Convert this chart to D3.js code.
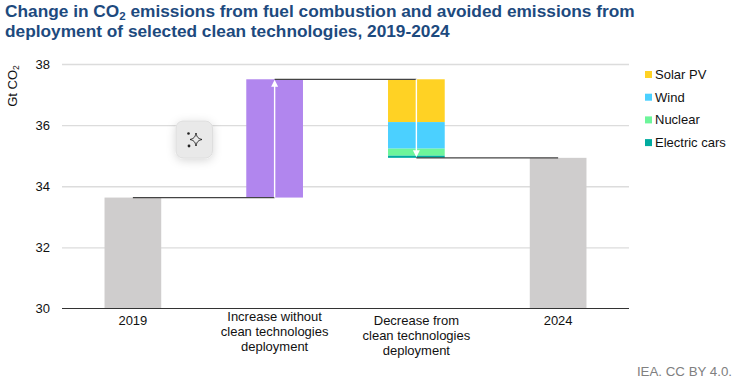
<!DOCTYPE html>
<html>
<head>
<meta charset="utf-8">
<script src="https://cdn.jsdelivr.net/npm/d3@7"></script>
<style>
  html, body { margin: 0; padding: 0; background: #fff; }
  svg { display: block; font-family: "Liberation Sans", Arial, sans-serif; }
</style>
</head>
<body>
<div id="chart"></div>
<script>
const categories = ["2019", "Increase", "Decrease", "2024"];
const categoryLabels = [
  ["2019"],
  ["Increase without", "clean technologies", "deployment"],
  ["Decrease from", "clean technologies", "deployment"],
  ["2024"]
];
const labelOffsets = [0, -4, 0, 0];
const yTicks = [30, 32, 34, 36, 38];

const start2019 = 33.63;
const increase = 3.87;
const end2024 = 34.93;

// decrease stack, top to bottom
const techNames = ["Solar PV", "Wind", "Nuclear", "Electric cars"];
const techValues = [1.40, 0.87, 0.23, 0.07];
const techColors = ["#ffd224", "#4bd0ff", "#6df59a", "#00ab9f"];

const width = 738, height = 383;
const margin = { top: 64, right: 109, bottom: 74.5, left: 62 };

const svg = d3.select("#chart").append("svg")
  .attr("width", width)
  .attr("height", height);

const defs = svg.append("defs");
const blur = defs.append("filter").attr("id", "soft")
  .attr("x", "-50%").attr("y", "-50%").attr("width", "200%").attr("height", "200%");
blur.append("feDropShadow")
  .attr("dx", 0).attr("dy", 2).attr("stdDeviation", 5)
  .attr("flood-color", "#000").attr("flood-opacity", 0.16);

const x = d3.scaleBand()
  .domain(categories)
  .range([margin.left, width - margin.right])
  .paddingInner(0.6)
  .paddingOuter(0.3);

const y = d3.scaleLinear()
  .domain([30, 38])
  .range([height - margin.bottom, margin.top]);

const mid = (c) => x(c) + x.bandwidth() / 2;

// Title ------------------------------------------------------
const title = svg.append("text")
  .attr("x", 5)
  .attr("fill", "#1d4a7e")
  .attr("font-size", 17.3)
  .attr("font-weight", "bold");

const firstLine = title.append("tspan").attr("x", 5).attr("y", 17);
firstLine.append("tspan").text("Change in CO");
firstLine.append("tspan").attr("font-size", 11.5).attr("dy", 3).text("2");
firstLine.append("tspan").attr("dy", -3).text(" emissions from fuel combustion and avoided emissions from");
title.append("tspan").attr("x", 5).attr("y", 37)
  .text("deployment of selected clean technologies, 2019-2024");

// Axes ------------------------------------------------------
const yAxis = svg.append("g")
  .attr("transform", `translate(${margin.left},0)`)
  .call(d3.axisLeft(y).tickValues(yTicks).tickSize(0).tickPadding(12));
yAxis.select(".domain").remove();
yAxis.selectAll("text").attr("font-size", 13).attr("fill", "#111").attr("font-family", "inherit");
yAxis.selectAll(".tick").filter((d) => d !== 30).select("line")
  .attr("x2", width - margin.right - margin.left)
  .attr("stroke", "#dcdcdc")
  .attr("stroke-width", 1.3);

const yLabel = svg.append("text")
  .attr("transform", "translate(17,86) rotate(-90)")
  .attr("text-anchor", "middle")
  .attr("font-size", 13)
  .attr("fill", "#111");
yLabel.append("tspan").text("Gt CO");
yLabel.append("tspan").attr("font-size", 8.5).attr("dy", 2).text("2");

// Bars ------------------------------------------------------
const totals = [
  { cat: "2019", value: start2019 },
  { cat: "2024", value: end2024 }
];
svg.append("g").selectAll("rect").data(totals).join("rect")
  .attr("x", (d) => x(d.cat))
  .attr("width", x.bandwidth())
  .attr("y", (d) => y(d.value))
  .attr("height", (d) => y(30) - y(d.value))
  .attr("fill", "#cfcdcd");

svg.append("rect")
  .attr("x", x("Increase"))
  .attr("width", x.bandwidth())
  .attr("y", y(start2019 + increase))
  .attr("height", y(start2019) - y(start2019 + increase))
  .attr("fill", "#b186ee");

let stackTop = start2019 + increase;
const stack = techValues.map((v, i) => {
  const d = { top: stackTop, bottom: stackTop - v, color: techColors[i] };
  stackTop -= v;
  return d;
});
svg.append("g").selectAll("rect").data(stack).join("rect")
  .attr("x", x("Decrease"))
  .attr("width", x.bandwidth())
  .attr("y", (d) => y(d.top))
  .attr("height", (d) => y(d.bottom) - y(d.top))
  .attr("fill", (d) => d.color);

// Connectors ------------------------------------------------------
const connectors = [
  { from: "2019", to: "Increase", value: start2019 },
  { from: "Increase", to: "Decrease", value: start2019 + increase },
  { from: "Decrease", to: "2024", value: end2024 }
];
svg.append("g").selectAll("line").data(connectors).join("line")
  .attr("x1", (d) => mid(d.from))
  .attr("x2", (d) => mid(d.to))
  .attr("y1", (d) => y(d.value))
  .attr("y2", (d) => y(d.value))
  .attr("stroke", "#444")
  .attr("stroke-width", 1.2);

// White arrows on the two change bars
const arrows = [
  { cat: "Increase", from: start2019, to: start2019 + increase },
  { cat: "Decrease", from: start2019 + increase, to: end2024 }
];
arrows.forEach((a) => {
  const dir = a.to > a.from ? 1 : -1;
  const tipY = y(a.to) + dir * 0.5;
  svg.append("line")
    .attr("x1", mid(a.cat)).attr("x2", mid(a.cat))
    .attr("y1", y(a.from)).attr("y2", tipY + dir * 4)
    .attr("stroke", "#fff").attr("stroke-width", 1.4);
  svg.append("path")
    .attr("d", `M${mid(a.cat)},${tipY} l-3.5,${dir * 7} h7 z`)
    .attr("fill", "#fff");
});

// Baseline and category labels ------------------------------------------------------
svg.append("line")
  .attr("x1", margin.left).attr("x2", width - margin.right)
  .attr("y1", y(30)).attr("y2", y(30))
  .attr("stroke", "#333").attr("stroke-width", 1);

const xLabels = svg.append("g").selectAll("text").data(categories).join("text")
  .attr("text-anchor", "middle")
  .attr("font-size", 13)
  .attr("fill", "#111");
xLabels.each(function (c, i) {
  d3.select(this).selectAll("tspan").data(categoryLabels[i]).join("tspan")
    .attr("x", mid(c))
    .attr("y", (d, j) => 325 + labelOffsets[i] + j * 15)
    .text((d) => d);
});

// Legend ------------------------------------------------------
const legend = svg.append("g").selectAll("g").data(techNames).join("g")
  .attr("transform", (d, i) => `translate(645,${74.5 + i * 22.7})`);
legend.append("rect")
  .attr("y", -3.5).attr("width", 7).attr("height", 7)
  .attr("fill", (d, i) => techColors[i]);
legend.append("text")
  .attr("x", 10).attr("y", 4.5)
  .attr("font-size", 13)
  .attr("fill", "#111")
  .text((d) => d);

// Source ------------------------------------------------------
svg.append("text")
  .attr("x", 732).attr("y", 376)
  .attr("text-anchor", "end")
  .attr("font-size", 13.3)
  .attr("fill", "#808080")
  .text("IEA. CC BY 4.0.");

// Sparkle button sitting over the chart ------------------------------------------------------
const btn = svg.append("g").attr("transform", "translate(176,121)");
btn.append("rect")
  .attr("width", 36.5).attr("height", 37).attr("rx", 7)
  .attr("fill", "#e9e9e9")
  .attr("stroke", "#dedede")
  .attr("filter", "url(#soft)");
btn.append("path")
  .attr("d", "M20,12 C20.8,16 22,17.5 26,18.5 C22,19.5 20.8,21 20,25 C19.2,21 18,19.5 14,18.5 C18,17.5 19.2,16 20,12 Z")
  .attr("fill", "none").attr("stroke", "#222").attr("stroke-width", 1);
btn.append("circle").attr("cx", 12.5).attr("cy", 12.5).attr("r", 1.3).attr("fill", "#222");
btn.append("circle").attr("cx", 13).attr("cy", 25).attr("r", 1.4).attr("fill", "#222");
</script>
</body>
</html>
